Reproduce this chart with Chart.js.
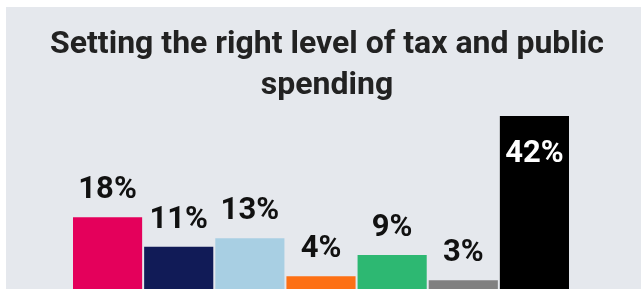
<!DOCTYPE html>
<html>
<head>
<meta charset="utf-8">
<script src="https://cdn.jsdelivr.net/npm/chart.js@4"></script>
<style>
   html, body { margin: 0; padding: 0; background: #ffffff; overflow: hidden; }
   #panel {
      position: absolute;
      left: 6px;
      top: 7px;
      width: 635px;
      height: 290px;
      background: #e5e8ed;
      overflow: hidden;
   }
   #chart { display: block; }
</style>
</head>
<body>
<div id="panel">
   <canvas id="chart" width="635" height="286"></canvas>
</div>
<script>
// Data
const parties = ["Labour", "Conservative", "Reform UK", "Lib Dem", "Green", "Other", "Don't know"]
const shares = [18, 11, 13, 4, 9, 3, 42]
const barColors = [
   "#e4005b",
   "#111b57",
   "#a8cfe3",
   "#fd7014",
   "#2db872",
   "#808080",
   "#000000",
]
const titleLines = ["Setting the right level of tax and public", "spending"]

// title is drawn by hand so it can sit a little right of the bars' centre
const titleText = {
   id: "titleText",
   afterDraw(chart) {
      const ctx = chart.ctx
      ctx.save()
      ctx.font = "bold 32px Roboto"
      ctx.fillStyle = "#222222"
      ctx.textAlign = "center"
      ctx.textBaseline = "alphabetic"
      titleLines.forEach((line, i) => {
         ctx.fillText(line, 321, 46 + i * 41)
      })
      ctx.restore()
   },
}

// draw the % labels on top of each bar (biggest one goes inside, in white)
const valueLabels = {
   id: "valueLabels",
   afterDatasetsDraw(chart) {
      const ctx = chart.ctx
      const meta = chart.getDatasetMeta(0)
      const maxVal = Math.max(...shares)
      ctx.save()
      ctx.font = "bold 31px Roboto"
      ctx.textAlign = "center"
      ctx.textBaseline = "alphabetic"
      meta.data.forEach((bar, i) => {
         const v = shares[i]
         if (v === maxVal) {
            ctx.fillStyle = "#ffffff"
            ctx.fillText(v + "%", bar.x, bar.y + 46)
         } else {
            ctx.fillStyle = "#111111"
            ctx.fillText(v + "%", bar.x, bar.y - 19)
         }
      })
      ctx.restore()
   },
}

const ctx = document.getElementById("chart").getContext("2d")
const chart = new Chart(ctx, {
   type: "bar",
   data: {
      labels: parties,
      datasets: [
         {
            data: shares,
            backgroundColor: barColors,
            borderWidth: 0,
            barPercentage: 69 / 71,
            categoryPercentage: 1,
         },
      ],
   },
   options: {
      responsive: false,
      animation: false,
      layout: {
         padding: { left: 66, right: 71, top: 109, bottom: 0 },
      },
      scales: {
         x: { display: false },
         y: { display: false, min: 0, max: 42 },
      },
      plugins: {
         legend: { display: false },
         tooltip: { enabled: false },
         title: { display: false },
      },
   },
   plugins: [valueLabels, titleText],
})
</script>
</body>
</html>
